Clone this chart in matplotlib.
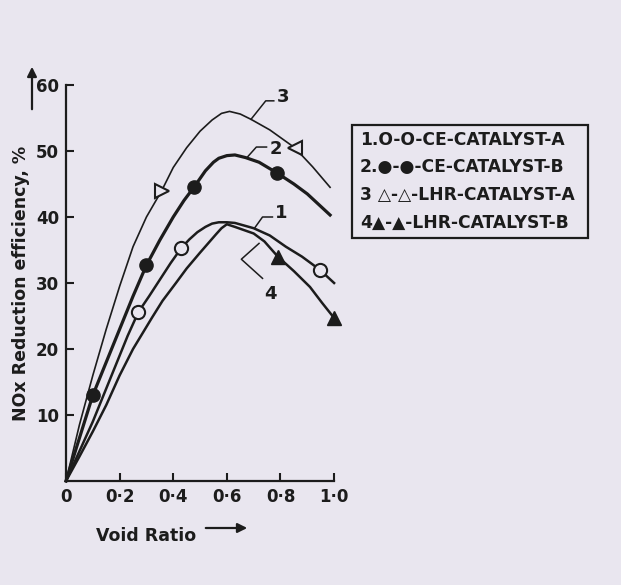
import matplotlib
matplotlib.use("Agg")
import matplotlib.pyplot as plt

# curves (void ratio, NOx reduction efficiency %)
x1 = [0, 0.05, 0.1, 0.15, 0.2, 0.23, 0.27, 0.31, 0.35, 0.39, 0.43, 0.46, 0.49,
      0.52, 0.545, 0.57, 0.6, 0.63, 0.70, 0.76, 0.82, 0.88, 0.947, 1.0]
y1 = [0, 4.5, 9, 14, 19, 22, 25.6, 28, 30.5, 33, 35.3, 36.6, 37.7,
      38.5, 39.0, 39.2, 39.2, 39.1, 38.3, 37.2, 35.5, 34, 32.0, 30.0]
x2 = [0, 0.05, 0.10, 0.15, 0.2, 0.25, 0.30, 0.35, 0.4, 0.44, 0.477, 0.52,
      0.55, 0.57, 0.6, 0.63, 0.67, 0.72, 0.786, 0.85, 0.9, 0.985]
y2 = [0, 6.5, 13.0, 18, 23, 28, 32.7, 36.5, 40, 42.5, 44.5, 47,
      48.3, 48.9, 49.3, 49.4, 49.0, 48.3, 46.7, 45, 43.5, 40.3]
x3 = [0, 0.05, 0.1, 0.15, 0.2, 0.25, 0.3, 0.357, 0.40, 0.45, 0.50, 0.545,
      0.58, 0.61, 0.65, 0.69, 0.76, 0.853, 0.92, 0.985]
y3 = [0, 8.5, 16, 23, 29.5, 35.5, 40, 44.0, 47.5, 50.5, 53, 54.7,
      55.7, 56.0, 55.6, 54.8, 53.2, 50.5, 47.6, 44.5]
x4 = [0, 0.05, 0.1, 0.15, 0.2, 0.25, 0.32, 0.36, 0.41, 0.45, 0.5, 0.53,
      0.56, 0.58, 0.6, 0.63, 0.70, 0.74, 0.79, 0.85, 0.91, 0.955, 1.0]
y4 = [0, 3.7, 7.5, 11.5, 16, 20, 24.7, 27.3, 30.0, 32.2, 34.6, 36.0,
      37.4, 38.3, 38.9, 38.5, 37.5, 36.3, 34.0, 31.8, 29.4, 27, 24.7]

# marker positions
m1x, m1y = [0.27, 0.43, 0.947], [25.6, 35.3, 32.0]
m2x, m2y = [0.10, 0.30, 0.477, 0.786], [13.0, 32.7, 44.5, 46.7]
m3x, m3y = [0.357, 0.853], [44.0, 50.5]
m4x, m4y = [0.79, 1.0], [34.0, 24.7]

xticks = [0, 0.2, 0.4, 0.6, 0.8, 1.0]
xtick_labels = ["0", "0·2", "0·4", "0·6", "0·8", "1·0"]
yticks = [10, 20, 30, 40, 50, 60]
legend_lines = ["1.O-O-CE-CATALYST-A", "2.●-●-CE-CATALYST-B",
                "3 △-△-LHR-CATALYST-A", "4▲-▲-LHR-CATALYST-B"]

ink = "#1c1c1c"
paper = "#e9e6ef"

fig = plt.figure(figsize=(6.21, 5.85), dpi=100, facecolor=paper)
ax = fig.add_axes([0.1063, 0.1778, 0.4317, 0.6769])
ax.set_facecolor(paper)

ax.plot(x3, y3, color=ink, lw=1.2, clip_on=False)
ax.plot(x2, y2, color=ink, lw=2.3, clip_on=False)
ax.plot(x1, y1, color=ink, lw=1.8, clip_on=False)
ax.plot(x4, y4, color=ink, lw=1.8, clip_on=False)

ms = 9.5
ax.plot(m1x, m1y, "o", ms=ms, mfc=paper, mec=ink, mew=1.5, clip_on=False)
ax.plot(m2x, m2y, "o", ms=ms, mfc=ink, mec=ink, clip_on=False)
ax.plot(m3x[:1], m3y[:1], ">", ms=ms + 1, mfc=paper, mec=ink, mew=1.5)
ax.plot(m3x[1:], m3y[1:], "<", ms=ms + 1, mfc=paper, mec=ink, mew=1.5)
ax.plot(m4x, m4y, "^", ms=ms + 1, mfc=ink, mec=ink, clip_on=False)

# curve number leaders
lead = dict(color=ink, lw=1.1)
ax.plot([0.69, 0.745, 0.775], [54.8, 57.6, 57.6], **lead)
ax.plot([0.677, 0.71, 0.748], [49.1, 50.6, 50.6], **lead)
ax.plot([0.703, 0.733, 0.77], [38.3, 40.0, 40.0], **lead)
ax.plot([0.72, 0.654, 0.733], [36.0, 33.6, 30.7], **lead)
num = dict(fontsize=13, fontweight="bold", color=ink, va="center")
ax.text(0.785, 58.2, "3", **num)
ax.text(0.758, 50.3, "2", **num)
ax.text(0.78, 40.6, "1", **num)
ax.text(0.74, 28.4, "4", **num)

ax.set_xlim(0, 1.0)
ax.set_ylim(0, 60)
ax.set_xticks(xticks)
ax.set_xticklabels(xtick_labels)
ax.set_yticks(yticks)
for s in ["top", "right"]:
    ax.spines[s].set_visible(False)
for s in ["left", "bottom"]:
    ax.spines[s].set_color(ink)
    ax.spines[s].set_linewidth(1.6)
ax.tick_params(direction="in", length=6, width=1.5, colors=ink,
               labelsize=12, pad=5)
for lab in ax.get_xticklabels() + ax.get_yticklabels():
    lab.set_fontweight("bold")

ax.set_ylabel("NOx Reduction efficiency, %", fontsize=12.5,
              fontweight="bold", color=ink, labelpad=4)
ax.set_xlabel("Void Ratio", fontsize=12.5, fontweight="bold",
              color=ink, loc="left", labelpad=10)
ax.xaxis.set_label_coords(0.11, -0.115)

# axis arrows
fig.add_artist(matplotlib.patches.FancyArrowPatch(
    (32 / 621, 1 - 112 / 585), (32 / 621, 1 - 64 / 585),
    transform=fig.transFigure, arrowstyle="-|>", mutation_scale=14,
    color=ink, lw=1.6))
fig.add_artist(matplotlib.patches.FancyArrowPatch(
    (203 / 621, 1 - 528 / 585), (250 / 621, 1 - 528 / 585),
    transform=fig.transFigure, arrowstyle="-|>", mutation_scale=14,
    color=ink, lw=1.6))

# legend box
fig.add_artist(matplotlib.patches.Rectangle(
    (352 / 621, 1 - 238 / 585), 236 / 621, 113 / 585,
    transform=fig.transFigure, fill=False, ec=ink, lw=1.6))
for i, t in enumerate(legend_lines):
    fig.text(360 / 621, 1 - (140 + i * 27.5) / 585, t, fontsize=12.3,
             fontweight="bold", color=ink, va="center")

fig.savefig("out.png", dpi=100, facecolor=paper)
